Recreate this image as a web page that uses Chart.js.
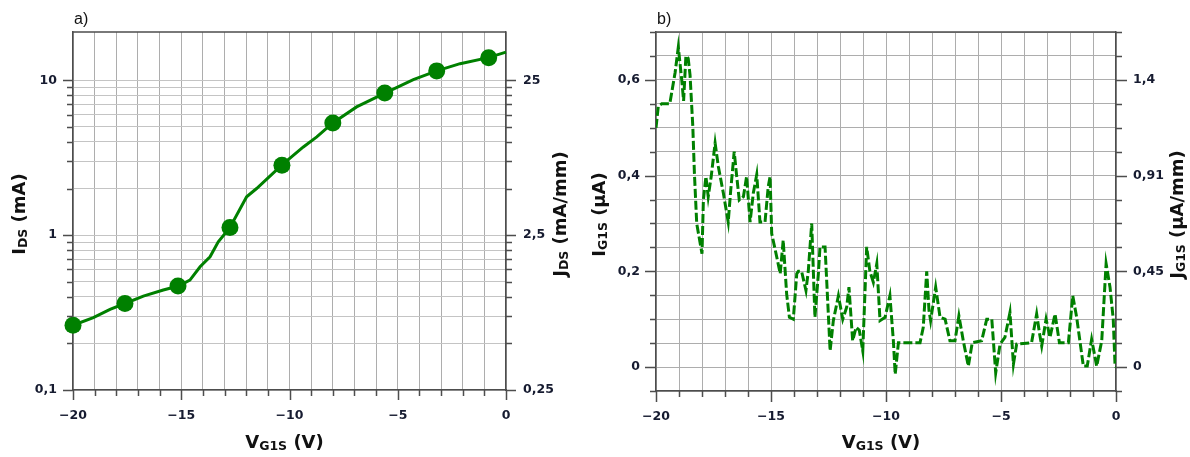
<!DOCTYPE html>
<html>
<head>
<meta charset="utf-8">
<script src="https://cdn.jsdelivr.net/npm/chart.js@4/dist/chart.umd.min.js"></script>
<style>
  html, body { margin: 0; padding: 0; background: #fff; }
  #wrap { position: relative; width: 1190px; height: 457px; overflow: hidden; }
  canvas { position: absolute; top: 0; }
  #chartA { left: 0; }
  #chartB { left: 578px; }
</style>
</head>
<body>
<div id="wrap">
  <canvas id="chartA" width="578" height="457"></canvas>
  <canvas id="chartB" width="612" height="457"></canvas>
</div>
<script>
// panel a) drain current, log scale
const markerVg = [-20, -17.6, -15.15, -12.75, -10.35, -8.0, -5.6, -3.2, -0.8];
const markerIds = [0.262, 0.362, 0.469, 1.12, 2.83, 5.3, 8.28, 11.5, 14.0];
const curveVg = [-20, -19.06, -18.29, -17.6, -16.75, -15.83, -15.13, -14.6, -14.13, -13.67, -13.29, -12.75,
  -11.98, -11.52, -10.36, -9.36, -8.74, -8.0, -6.9, -5.57, -4.28, -3.2, -2.12, -0.82, 0];
const curveIds = [0.262, 0.293, 0.332, 0.362, 0.404, 0.442, 0.469, 0.512, 0.625, 0.725, 0.906, 1.12,
  1.77, 2.0, 2.83, 3.71, 4.31, 5.3, 6.73, 8.28, 10.1, 11.5, 12.8, 14.0, 15.2];

// panel b) gate current
const gateVg = [-20, -19.9, -19.75, -19.4, -19.17, -19.03, -18.88, -18.8, -18.7, -18.6, -18.52, -18.4, -18.33,
  -18.23, -18.0, -17.94, -17.83, -17.73, -17.6, -17.43, -17.29, -17.07, -16.86, -16.75, -16.6, -16.49, -16.38,
  -16.2, -16.06, -15.91, -15.77, -15.62, -15.48, -15.26, -15.12, -15.04, -14.97, -14.75, -14.6, -14.47, -14.32,
  -14.2, -14.03, -13.88, -13.81, -13.67, -13.48, -13.38, -13.23, -13.09, -12.94, -12.87, -12.65, -12.43, -12.29,
  -12.07, -11.88, -11.71, -11.61, -11.45, -11.3, -11.16, -11.01, -10.84, -10.7, -10.55, -10.4, -10.26, -10.04,
  -9.83, -9.68, -9.6, -9.46, -9.17, -8.52, -8.38, -8.23, -8.13, -8.06, -7.84, -7.65, -7.43, -7.22, -7.0, -6.83,
  -6.64, -6.42, -6.25, -5.84, -5.62, -5.4, -5.23, -5.04, -4.83, -4.61, -4.46, -4.32, -3.67, -3.45, -3.33, -3.23,
  -3.04, -2.87, -2.65, -2.46, -2.07, -1.88, -1.71, -1.42, -1.25, -1.06, -0.84, -0.62, -0.43, -0.26, -0.12, -0.04, 0];
const gateIg = [0.50, 0.545, 0.55, 0.55, 0.615, 0.668, 0.60, 0.556, 0.65, 0.645, 0.61, 0.503, 0.405,
  0.30, 0.237, 0.349, 0.398, 0.356, 0.398, 0.468, 0.419, 0.363, 0.303, 0.37, 0.45, 0.398, 0.349,
  0.356, 0.398, 0.303, 0.363, 0.402, 0.303, 0.303, 0.377, 0.398, 0.279, 0.23, 0.195, 0.265, 0.153,
  0.104, 0.10, 0.195, 0.20, 0.20, 0.16, 0.20, 0.30, 0.104, 0.195, 0.251, 0.251, 0.034, 0.097,
  0.149, 0.10, 0.125, 0.167, 0.055, 0.083, 0.077, 0.034, 0.251, 0.20, 0.177, 0.216, 0.097, 0.104,
  0.149, 0.055, -0.015, 0.051, 0.051, 0.051, 0.083, 0.20, 0.118, 0.097, 0.167, 0.104, 0.10, 0.055, 0.055, 0.107,
  0.055, 0.002, 0.051, 0.055, 0.10, 0.10, -0.012, 0.048, 0.062, 0.114, 0.006, 0.048, 0.051, 0.111, 0.072, 0.044,
  0.10, 0.062, 0.111, 0.051, 0.051, 0.149, 0.104, 0.002, 0.002, 0.058, 0.002, 0.055, 0.216, 0.167, 0.10, 0.002, 0];

// tick labels
const vgLabelValues = [-20, -15, -10, -5, 0];
const idsLabelValues = [0.1, 1, 10];
const idsTickLabels = ['0,1', '1', '10'];
const jdsLabelValues = [0.25, 2.5, 25];
const jdsTickLabels = ['0,25', '2,5', '25'];
const igLabelValues = [0, 0.2, 0.4, 0.6];
const igTickLabels = ['0', '0,2', '0,4', '0,6'];
const jgTickLabels = ['0', '0,45', '0,91', '1,4'];

const IDS_MAX = 20.5;
const JDS_PER_IDS = 2.5;
const GREEN = '#008000';
const AXIS = '#4d4d4d';
const GRID_X = '#adadad';
const GRID_Y = '#c4c4c4';
const FAMILY = '"DejaVu Sans", Verdana, sans-serif';
const TICK_FONT = { family: FAMILY, size: 12.5, weight: 'bold' };
const TICK_COLOR = '#161b30';

// grid positions: every volt, every log minor step inside the range
const vgGrid = [];
for (let v = -20; v <= 0; v++) vgGrid.push(v);
const idsGrid = [];
for (const dec of [0.1, 1, 10]) for (let m = 1; m <= 9; m++) {
  const v = +(dec * m).toPrecision(3);
  if (v < IDS_MAX * 0.95) idsGrid.push(v);
}
const jdsGrid = idsGrid.map(v => +(v * JDS_PER_IDS).toPrecision(4));

function findLabel(v, values) {
  return values.findIndex(l => Math.abs(l - v) < 1e-9 + 1e-6 * Math.abs(l));
}
function vgLabel(v) {
  if (findLabel(v, vgLabelValues) < 0) return '';
  return v === 0 ? '0' : '\u2212' + Math.abs(v);
}

// frame on top, tick marks (long at labels, short elsewhere)
const frameAndTicks = {
  id: 'frameAndTicks',
  afterDraw(chart, args, opts) {
    const { ctx, chartArea: a } = chart;
    ctx.save();
    ctx.strokeStyle = AXIS;
    ctx.lineWidth = 1.5;
    ctx.beginPath();
    ctx.moveTo(a.left, a.top);
    ctx.lineTo(a.right, a.top);
    for (const id of Object.keys(chart.scales)) {
      const s = chart.scales[id];
      const majors = opts.majors[id] || [];
      for (const t of s.ticks) {
        const p = Math.round(s.getPixelForValue(t.value)) + 0.5;
        const len = findLabel(t.value, majors) >= 0 ? opts.long : opts.short;
        if (s.isHorizontal()) {
          ctx.moveTo(p, a.bottom);
          ctx.lineTo(p, a.bottom + len);
        } else if (s.position === 'left') {
          ctx.moveTo(a.left, p);
          ctx.lineTo(a.left - len, p);
        } else {
          ctx.moveTo(a.right, p);
          ctx.lineTo(a.right + len, p);
        }
      }
    }
    ctx.stroke();
    ctx.restore();
  }
};

// axis titles with subscripts
function drawRich(ctx, parts, x, y, angle) {
  const big = 'bold 18px ' + FAMILY;
  const small = 'bold 12.5px ' + FAMILY;
  let width = 0;
  for (const [text, sub] of parts) {
    ctx.font = sub ? small : big;
    width += ctx.measureText(text).width;
  }
  ctx.save();
  ctx.translate(x, y);
  ctx.rotate(angle);
  ctx.textBaseline = 'alphabetic';
  ctx.textAlign = 'left';
  ctx.fillStyle = '#111';
  let cx = -width / 2;
  for (const [text, sub] of parts) {
    ctx.font = sub ? small : big;
    ctx.fillText(text, cx, sub ? 1.5 : 0);
    cx += ctx.measureText(text).width;
  }
  ctx.restore();
}

const richTitles = {
  id: 'richTitles',
  afterDraw(chart, args, opts) {
    const { ctx, chartArea: a } = chart;
    const mid = (a.top + a.bottom) / 2 + 3;
    drawRich(ctx, opts.left, opts.leftX, mid, -Math.PI / 2);
    drawRich(ctx, opts.right, opts.rightX, mid, -Math.PI / 2);
    drawRich(ctx, opts.bottom, (a.left + a.right) / 2 - 5, 448, 0);
    ctx.save();
    ctx.font = '16px "Liberation Sans", Arial, sans-serif';
    ctx.fillStyle = '#111';
    ctx.textBaseline = 'alphabetic';
    ctx.fillText(opts.panel, a.left + 1, 24);
    ctx.restore();
  }
};

function baseScale(extra) {
  return Object.assign({
    grid: { drawTicks: false },
    border: { color: AXIS, width: 1.5 },
  }, extra);
}
function tickOpts(padding, callback) {
  return { padding, font: TICK_FONT, color: TICK_COLOR, autoSkip: false, maxRotation: 0, callback };
}
const vgTitle = [['V', false], ['G1S', true], [' (V)', false]];

new Chart(document.getElementById('chartA'), {
  type: 'line',
  data: {
    datasets: [
      {
        data: curveVg.map((v, i) => ({ x: v, y: curveIds[i] })),
        borderColor: GREEN, borderWidth: 3, pointRadius: 0, tension: 0, clip: false
      },
      {
        data: markerVg.map((v, i) => ({ x: v, y: markerIds[i] })),
        showLine: false, pointRadius: 8.5, pointBackgroundColor: GREEN, pointBorderWidth: 0,
        borderColor: GREEN, clip: false
      }
    ]
  },
  options: {
    responsive: false, animation: false, devicePixelRatio: 1,
    layout: { padding: { top: 32, left: 0, right: 0, bottom: 0 } },
    plugins: {
      legend: { display: false }, tooltip: { enabled: false },
      frameAndTicks: { long: 10, short: 6, majors: { x: vgLabelValues, y: idsLabelValues, y2: jdsLabelValues } },
      richTitles: {
        panel: 'a)', leftX: 25, rightX: 566,
        left: [['I', false], ['DS', true], [' (mA)', false]],
        right: [['J', false], ['DS', true], [' (mA/mm)', false]],
        bottom: vgTitle
      }
    },
    scales: {
      x: baseScale({
        type: 'linear', min: -20, max: 0, position: 'bottom',
        afterBuildTicks: s => { s.ticks = vgGrid.map(v => ({ value: v })); },
        afterFit: s => { s.height = 67; },
        grid: { color: GRID_X, drawTicks: false },
        ticks: tickOpts(18, v => vgLabel(v))
      }),
      y: baseScale({
        type: 'logarithmic', min: 0.1, max: IDS_MAX, position: 'left',
        afterBuildTicks: s => { s.ticks = idsGrid.map(v => ({ value: v })); },
        afterFit: s => { s.width = 73; },
        grid: { color: GRID_Y, drawTicks: false },
        ticks: tickOpts(16, v => { const i = findLabel(v, idsLabelValues); return i < 0 ? '' : idsTickLabels[i]; })
      }),
      y2: baseScale({
        type: 'logarithmic', min: 0.1 * JDS_PER_IDS, max: IDS_MAX * JDS_PER_IDS, position: 'right',
        afterBuildTicks: s => { s.ticks = jdsGrid.map(v => ({ value: v })); },
        afterFit: s => { s.width = 72; },
        grid: { drawOnChartArea: false, drawTicks: false },
        ticks: tickOpts(17, v => { const i = findLabel(v, jdsLabelValues); return i < 0 ? '' : jdsTickLabels[i]; })
      })
    }
  },
  plugins: [frameAndTicks, richTitles]
});

new Chart(document.getElementById('chartB'), {
  type: 'line',
  data: {
    datasets: [{
      data: gateVg.map((v, i) => ({ x: v, y: gateIg[i] })),
      borderColor: GREEN, borderWidth: 3, borderDash: [9, 3], pointRadius: 0, tension: 0
    }]
  },
  options: {
    responsive: false, animation: false, devicePixelRatio: 1,
    layout: { padding: { top: 32, left: 0, right: 0, bottom: 0 } },
    plugins: {
      legend: { display: false }, tooltip: { enabled: false },
      frameAndTicks: { long: 11, short: 6, majors: { x: vgLabelValues, y: igLabelValues, y2: igLabelValues } },
      richTitles: {
        panel: 'b)', leftX: 27, rightX: 605,
        left: [['I', false], ['G1S', true], [' (\u03BCA)', false]],
        right: [['J', false], ['G1S', true], [' (\u03BCA/mm)', false]],
        bottom: vgTitle
      }
    },
    scales: {
      x: baseScale({
        type: 'linear', min: -20, max: 0, position: 'bottom',
        afterBuildTicks: s => { s.ticks = vgGrid.map(v => ({ value: v })); },
        afterFit: s => { s.height = 66; },
        grid: { color: GRID_X, drawTicks: false },
        ticks: tickOpts(18, v => vgLabel(v))
      }),
      y: baseScale({
        type: 'linear', min: -0.05, max: 0.7, position: 'left',
        afterFit: s => { s.width = 78; },
        grid: { color: GRID_X, drawTicks: false },
        ticks: Object.assign(tickOpts(16, v => { const i = findLabel(v, igLabelValues); return i < 0 ? '' : igTickLabels[i]; }), { stepSize: 0.05 })
      }),
      y2: baseScale({
        type: 'linear', min: -0.05, max: 0.7, position: 'right',
        afterFit: s => { s.width = 74; },
        grid: { drawOnChartArea: false, drawTicks: false },
        ticks: Object.assign(tickOpts(17, v => { const i = findLabel(v, igLabelValues); return i < 0 ? '' : jgTickLabels[i]; }), { stepSize: 0.05 })
      })
    }
  },
  plugins: [frameAndTicks, richTitles]
});
</script>
</body>
</html>
